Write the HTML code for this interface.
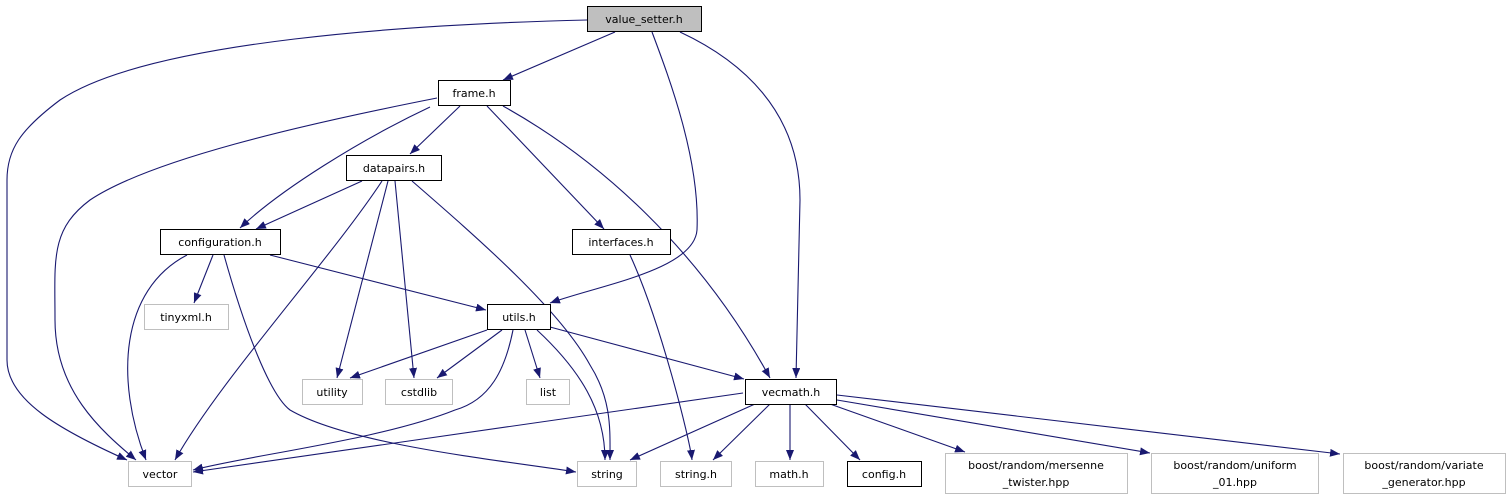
<!DOCTYPE html>
<html><head><meta charset="utf-8"><style>
html,body{margin:0;padding:0;background:#fff;width:1511px;height:500px;overflow:hidden}
text{font-family:"DejaVu Sans","Liberation Sans",sans-serif;font-size:11px;fill:#000}
</style></head><body>
<svg width="1511" height="500" viewBox="0 0 1511 500" xmlns="http://www.w3.org/2000/svg">
<defs><marker id="a" markerUnits="userSpaceOnUse" markerWidth="11" markerHeight="8" refX="10" refY="4" orient="auto"><path d="M0,0 L10,4 L0,8 z" fill="#191970"/></marker></defs>
<g fill="none" stroke="#191970" stroke-width="1.1" marker-end="url(#a)">
<path d="M587,20 C420,24 150,40 60,100 C20,130 7,150 7,180 L7,360 C7,400 60,430 127,460"/>
<path d="M615,32 L503,80"/>
<path d="M652,32 C670,80 700,160 697,230 C694,270 600,285 550,303"/>
<path d="M680,32 C740,60 800,110 800,200 L796,378"/>
<path d="M437,98 C300,125 150,160 90,200 C50,230 55,260 55,320 C55,390 100,430 136,460"/>
<path d="M430,107 C360,140 280,190 240,228"/>
<path d="M460,106 L410,154"/>
<path d="M487,106 L604,229"/>
<path d="M503,106 C600,160 700,250 770,378"/>
<path d="M362,181 L256,229"/>
<path d="M382,181 C330,260 220,380 175,460"/>
<path d="M388,181 L337,378"/>
<path d="M395,181 L414,378"/>
<path d="M412,181 C480,240 560,310 590,365 C612,400 610,430 610,460"/>
<path d="M187,255 C120,290 115,380 146,460"/>
<path d="M213,255 L194,303"/>
<path d="M224,255 C245,330 270,395 290,410 C350,445 500,460 576,472"/>
<path d="M270,255 L486,310"/>
<path d="M630,255 C660,320 690,440 692,460"/>
<path d="M487,330 L350,378"/>
<path d="M502,330 L437,378"/>
<path d="M513,330 C505,370 490,400 455,410 C380,440 250,455 193,470"/>
<path d="M525,330 L540,378"/>
<path d="M537,330 C580,370 605,410 605,460"/>
<path d="M550,327 L744,379"/>
<path d="M743,393 L193,472"/>
<path d="M755,404 L630,460"/>
<path d="M770,404 L713,460"/>
<path d="M790,404 L790,460"/>
<path d="M805,404 L860,460"/>
<path d="M830,404 L965,452"/>
<path d="M837,400 L1150,453"/>
<path d="M837,395 L1340,454"/>
</g>
<g stroke-width="1">
<rect x="587.5" y="6.5" width="114" height="25" fill="#bfbfbf" stroke="#000"/>
<rect x="438.5" y="80.5" width="72" height="25" fill="#fff" stroke="#000"/>
<rect x="346.5" y="155.5" width="95" height="25" fill="#fff" stroke="#000"/>
<rect x="160.5" y="229.5" width="120" height="25" fill="#fff" stroke="#000"/>
<rect x="572.5" y="229.5" width="98" height="25" fill="#fff" stroke="#000"/>
<rect x="144.5" y="304.5" width="84" height="25" fill="#fff" stroke="#bfbfbf"/>
<rect x="487.5" y="304.5" width="63" height="25" fill="#fff" stroke="#000"/>
<rect x="302.5" y="379.5" width="60" height="25" fill="#fff" stroke="#bfbfbf"/>
<rect x="385.5" y="379.5" width="67" height="25" fill="#fff" stroke="#bfbfbf"/>
<rect x="526.5" y="379.5" width="43" height="25" fill="#fff" stroke="#bfbfbf"/>
<rect x="745.5" y="379.5" width="91" height="25" fill="#fff" stroke="#000"/>
<rect x="128.5" y="461.5" width="63" height="25" fill="#fff" stroke="#bfbfbf"/>
<rect x="577.5" y="461.5" width="59" height="25" fill="#fff" stroke="#bfbfbf"/>
<rect x="660.5" y="461.5" width="71" height="25" fill="#fff" stroke="#bfbfbf"/>
<rect x="755.5" y="461.5" width="68" height="25" fill="#fff" stroke="#bfbfbf"/>
<rect x="847.5" y="461.5" width="74" height="25" fill="#fff" stroke="#000"/>
<rect x="945.5" y="453.5" width="182" height="40" fill="#fff" stroke="#bfbfbf"/>
<rect x="1151.5" y="453.5" width="167" height="40" fill="#fff" stroke="#bfbfbf"/>
<rect x="1343.5" y="453.5" width="162" height="40" fill="#fff" stroke="#bfbfbf"/>
</g>
<g text-anchor="middle">
<text x="644" y="23">value_setter.h</text>
<text x="474" y="97">frame.h</text>
<text x="394" y="172">datapairs.h</text>
<text x="220" y="246">configuration.h</text>
<text x="621" y="246">interfaces.h</text>
<text x="186" y="321">tinyxml.h</text>
<text x="519" y="321">utils.h</text>
<text x="332" y="396">utility</text>
<text x="419" y="396">cstdlib</text>
<text x="548" y="396">list</text>
<text x="791" y="396">vecmath.h</text>
<text x="160" y="478">vector</text>
<text x="607" y="478">string</text>
<text x="696" y="478">string.h</text>
<text x="789" y="478">math.h</text>
<text x="884" y="478">config.h</text>
<text x="1036" y="469">boost/random/mersenne</text>
<text x="1036" y="486">_twister.hpp</text>
<text x="1235" y="469">boost/random/uniform</text>
<text x="1235" y="486">_01.hpp</text>
<text x="1424" y="469">boost/random/variate</text>
<text x="1424" y="486">_generator.hpp</text>
</g>
</svg>
</body></html>
